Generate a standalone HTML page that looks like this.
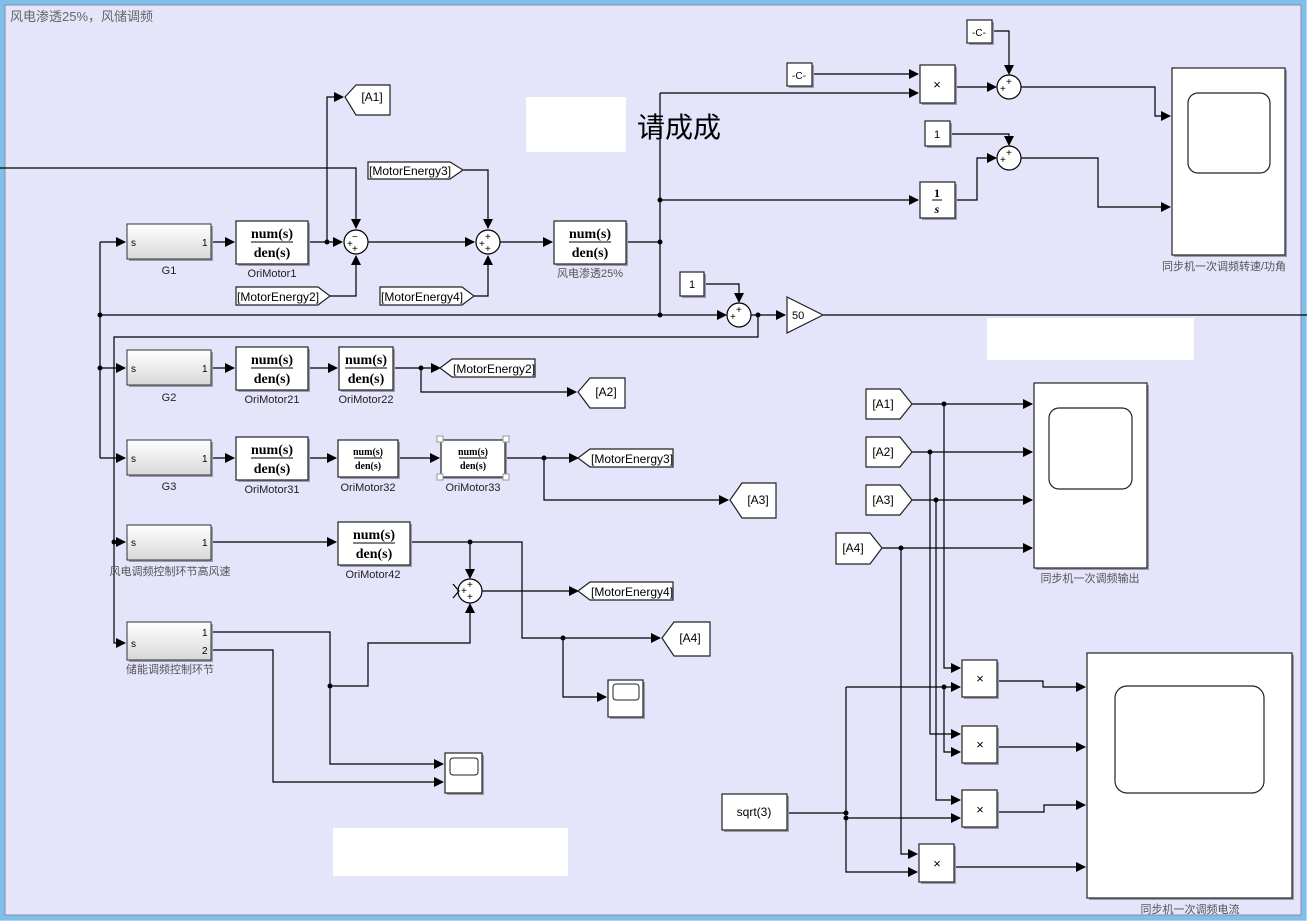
<!DOCTYPE html>
<html><head><meta charset="utf-8"><style>
html,body{margin:0;padding:0;width:1307px;height:921px;overflow:hidden;background:#e4e4fa}
svg{display:block}
text{font-family:"Liberation Sans","Noto Sans CJK SC",sans-serif;fill:#000}
.cn{font-family:"Liberation Sans","Noto Sans CJK SC",sans-serif;fill:#555;font-size:11px}
.lb{font-size:11px;fill:#222}
.w{stroke:#000;stroke-width:1.2;fill:none}
.b{fill:#fff;stroke:#222;stroke-width:1.2}
.sh{fill:#9a9aaa}
.tf{font-family:"Liberation Serif",serif;font-weight:bold}
.tg{font-size:12px}
</style></head><body>
<svg width="1307" height="921" viewBox="0 0 1307 921" xmlns="http://www.w3.org/2000/svg">
<defs>
<marker id="a" markerWidth="10" markerHeight="10" refX="9" refY="5" orient="auto" markerUnits="userSpaceOnUse"><path d="M0,0 L10,5 L0,10 z" fill="#000"/></marker>
<linearGradient id="g" x1="0" y1="0" x2="0" y2="1"><stop offset="0" stop-color="#ffffff"/><stop offset="1" stop-color="#d8d8d8"/></linearGradient>
</defs>
<rect x="0" y="0" width="1307" height="921" fill="#e4e4fa"/>
<rect x="2" y="2" width="1302" height="916" fill="none" stroke="#7ec0ea" stroke-width="5"/>
<rect x="5" y="5" width="1296" height="910" fill="none" stroke="#8a8aa8" stroke-width="1"/>
<text x="10" y="21" style="font-size:13px;fill:#666">风电渗透25%，风储调频</text>

<rect x="526" y="97" width="100" height="55" fill="#fff"/>
<rect x="987" y="318" width="207" height="42" fill="#fff"/>
<rect x="333" y="828" width="235" height="48" fill="#fff"/>
<text x="637" y="137" style="font-size:28px">请成成</text>

<g class="w">
<path d="M0,168 H356 V228" marker-end="url(#a)"/>
<path d="M100,242 V458"/>
<path d="M100,242 H125" marker-end="url(#a)"/>
<path d="M100,368 H125" marker-end="url(#a)"/>
<path d="M100,458 H125" marker-end="url(#a)"/>
<path d="M100,315 H726" marker-end="url(#a)"/>
<path d="M758,315 V337 H114 V643 H125" marker-end="url(#a)"/>
<path d="M114,542 H125" marker-end="url(#a)"/>
<path d="M211,242 H234" marker-end="url(#a)"/>
<path d="M308,242 H342" marker-end="url(#a)"/>
<path d="M327,242 V97 H343" marker-end="url(#a)"/>
<path d="M330,296 H356 V256" marker-end="url(#a)"/>
<path d="M463,170 H488 V228" marker-end="url(#a)"/>
<path d="M474,296 H488 V256" marker-end="url(#a)"/>
<path d="M368,242 H474" marker-end="url(#a)"/>
<path d="M500,242 H552" marker-end="url(#a)"/>
<path d="M626,242 H660"/>
<path d="M660,93 V315"/>
<path d="M660,93 H918" marker-end="url(#a)"/>
<path d="M812,74 H918" marker-end="url(#a)"/>
<path d="M660,200 H918" marker-end="url(#a)"/>
<path d="M955,87 H996" marker-end="url(#a)"/>
<path d="M992,31 H1009 V74" marker-end="url(#a)"/>
<path d="M1021,87 H1155 V116 H1170" marker-end="url(#a)"/>
<path d="M950,134 H1009 V145" marker-end="url(#a)"/>
<path d="M955,200 H977 V158 H996" marker-end="url(#a)"/>
<path d="M1021,158 H1098 V207 H1170" marker-end="url(#a)"/>
<path d="M704,284 H739 V302" marker-end="url(#a)"/>
<path d="M751,315 H785" marker-end="url(#a)"/>
<path d="M823,315 H1307"/>
<path d="M211,368 H234" marker-end="url(#a)"/>
<path d="M308,368 H337" marker-end="url(#a)"/>
<path d="M393,368 H440" marker-end="url(#a)"/>
<path d="M421,368 V392 H576" marker-end="url(#a)"/>
<path d="M211,458 H234" marker-end="url(#a)"/>
<path d="M308,458 H336" marker-end="url(#a)"/>
<path d="M398,458 H439" marker-end="url(#a)"/>
<path d="M505,458 H578" marker-end="url(#a)"/>
<path d="M544,458 V500 H728" marker-end="url(#a)"/>
<path d="M211,542 H336" marker-end="url(#a)"/>
<path d="M410,542 H522 V638 H660" marker-end="url(#a)"/>
<path d="M470,542 V578" marker-end="url(#a)"/>
<path d="M482,591 H578" marker-end="url(#a)"/>
<path d="M563,638 V697 H606" marker-end="url(#a)"/>
<path d="M211,632 H330 V764 H443" marker-end="url(#a)"/>
<path d="M330,686 H368 V643 H470 V604" marker-end="url(#a)"/>
<path d="M211,650 H273 V782 H443" marker-end="url(#a)"/>
<path d="M912,404 H1032" marker-end="url(#a)"/>
<path d="M912,452 H1032" marker-end="url(#a)"/>
<path d="M912,500 H1032" marker-end="url(#a)"/>
<path d="M882,548 H1032" marker-end="url(#a)"/>
<path d="M944,404 V668 H960" marker-end="url(#a)"/>
<path d="M930,452 V734 H960" marker-end="url(#a)"/>
<path d="M936,500 V800 H960" marker-end="url(#a)"/>
<path d="M901,548 V854 H917" marker-end="url(#a)"/>
<path d="M787,813 H846"/>
<path d="M846,687 H960" marker-end="url(#a)"/>
<path d="M846,687 V872 H917" marker-end="url(#a)"/>
<path d="M846,818 H960" marker-end="url(#a)"/>
<path d="M944,687 V752 H960" marker-end="url(#a)"/>
<path d="M997,681 H1043 V687 H1085" marker-end="url(#a)"/>
<path d="M997,747 H1085" marker-end="url(#a)"/>
<path d="M997,812 H1044 V805 H1085" marker-end="url(#a)"/>
<path d="M955,867 H1085" marker-end="url(#a)"/>
</g>
<g fill="#000">
<circle cx="100" cy="315" r="2.5"/><circle cx="100" cy="368" r="2.5"/><circle cx="114" cy="542" r="2.5"/>
<circle cx="327" cy="242" r="2.5"/><circle cx="660" cy="242" r="2.5"/><circle cx="660" cy="200" r="2.5"/><circle cx="660" cy="315" r="2.5"/>
<circle cx="758" cy="315" r="2.5"/><circle cx="421" cy="368" r="2.5"/><circle cx="544" cy="458" r="2.5"/>
<circle cx="470" cy="542" r="2.5"/><circle cx="563" cy="638" r="2.5"/><circle cx="330" cy="686" r="2.5"/>
<circle cx="944" cy="404" r="2.5"/><circle cx="930" cy="452" r="2.5"/><circle cx="936" cy="500" r="2.5"/><circle cx="901" cy="548" r="2.5"/>
<circle cx="944" cy="687" r="2.5"/><circle cx="846" cy="813" r="2.5"/><circle cx="846" cy="818" r="2.5"/>
</g>

<g>
<rect x="129" y="226" width="84" height="35" class="sh"/><rect x="127" y="224" width="84" height="35" fill="url(#g)" stroke="#333"/>
<text x="131" y="246" style="font-size:10px">s</text><text x="202" y="246" style="font-size:10px">1</text>
<text x="169" y="274" text-anchor="middle" class="lb">G1</text>
<rect x="129" y="352" width="84" height="35" class="sh"/><rect x="127" y="350" width="84" height="35" fill="url(#g)" stroke="#333"/>
<text x="131" y="372" style="font-size:10px">s</text><text x="202" y="372" style="font-size:10px">1</text>
<text x="169" y="401" text-anchor="middle" class="lb">G2</text>
<rect x="129" y="442" width="84" height="35" class="sh"/><rect x="127" y="440" width="84" height="35" fill="url(#g)" stroke="#333"/>
<text x="131" y="462" style="font-size:10px">s</text><text x="202" y="462" style="font-size:10px">1</text>
<text x="169" y="490" text-anchor="middle" class="lb">G3</text>
<rect x="129" y="527" width="84" height="35" class="sh"/><rect x="127" y="525" width="84" height="35" fill="url(#g)" stroke="#333"/>
<text x="131" y="546" style="font-size:10px">s</text><text x="202" y="546" style="font-size:10px">1</text>
<text x="170" y="575" text-anchor="middle" class="cn">风电调频控制环节高风速</text>
<rect x="129" y="624" width="84" height="38" class="sh"/><rect x="127" y="622" width="84" height="38" fill="url(#g)" stroke="#333"/>
<text x="131" y="647" style="font-size:10px">s</text><text x="202" y="636" style="font-size:10px">1</text><text x="202" y="654" style="font-size:10px">2</text>
<text x="170" y="673" text-anchor="middle" class="cn">储能调频控制环节</text>
</g>

<g>
<rect x="238" y="223" width="72" height="43" class="sh"/><rect x="236" y="221" width="72" height="43" class="b"/>
<text x="272" y="238" text-anchor="middle" class="tf" style="font-size:14px">num(s)</text><line x1="251" y1="242" x2="293" y2="242" stroke="#000"/><text x="272" y="257" text-anchor="middle" class="tf" style="font-size:14px">den(s)</text>
<text x="272" y="277" text-anchor="middle" class="lb">OriMotor1</text>
<rect x="556" y="223" width="72" height="43" class="sh"/><rect x="554" y="221" width="72" height="43" class="b"/>
<text x="590" y="238" text-anchor="middle" class="tf" style="font-size:14px">num(s)</text><line x1="569" y1="242" x2="611" y2="242" stroke="#000"/><text x="590" y="257" text-anchor="middle" class="tf" style="font-size:14px">den(s)</text>
<text x="590" y="277" text-anchor="middle" class="cn">风电渗透25%</text>
<rect x="238" y="349" width="72" height="43" class="sh"/><rect x="236" y="347" width="72" height="43" class="b"/>
<text x="272" y="364" text-anchor="middle" class="tf" style="font-size:14px">num(s)</text><line x1="251" y1="368" x2="293" y2="368" stroke="#000"/><text x="272" y="383" text-anchor="middle" class="tf" style="font-size:14px">den(s)</text>
<text x="272" y="403" text-anchor="middle" class="lb">OriMotor21</text>
<rect x="341" y="349" width="54" height="43" class="sh"/><rect x="339" y="347" width="54" height="43" class="b"/>
<text x="366" y="364" text-anchor="middle" class="tf" style="font-size:14px">num(s)</text><line x1="345" y1="368" x2="387" y2="368" stroke="#000"/><text x="366" y="383" text-anchor="middle" class="tf" style="font-size:14px">den(s)</text>
<text x="366" y="403" text-anchor="middle" class="lb">OriMotor22</text>
<rect x="238" y="439" width="72" height="43" class="sh"/><rect x="236" y="437" width="72" height="43" class="b"/>
<text x="272" y="454" text-anchor="middle" class="tf" style="font-size:14px">num(s)</text><line x1="251" y1="458" x2="293" y2="458" stroke="#000"/><text x="272" y="473" text-anchor="middle" class="tf" style="font-size:14px">den(s)</text>
<text x="272" y="493" text-anchor="middle" class="lb">OriMotor31</text>
<rect x="340" y="442" width="60" height="37" class="sh"/><rect x="338" y="440" width="60" height="37" class="b"/>
<text x="368" y="455" text-anchor="middle" class="tf" style="font-size:10px">num(s)</text><line x1="354" y1="458" x2="382" y2="458" stroke="#000"/><text x="368" y="469" text-anchor="middle" class="tf" style="font-size:10px">den(s)</text>
<text x="368" y="491" text-anchor="middle" class="lb">OriMotor32</text>
<rect x="443" y="442" width="64" height="37" class="sh"/><rect x="441" y="440" width="64" height="37" class="b"/>
<text x="473" y="455" text-anchor="middle" class="tf" style="font-size:10px">num(s)</text><line x1="459" y1="458" x2="487" y2="458" stroke="#000"/><text x="473" y="469" text-anchor="middle" class="tf" style="font-size:10px">den(s)</text>
<g fill="#fff" stroke="#999"><rect x="437" y="436" width="6" height="6"/><rect x="503" y="436" width="6" height="6"/><rect x="437" y="474" width="6" height="6"/><rect x="503" y="474" width="6" height="6"/></g>
<text x="473" y="491" text-anchor="middle" class="lb">OriMotor33</text>
<rect x="340" y="524" width="72" height="43" class="sh"/><rect x="338" y="522" width="72" height="43" class="b"/>
<text x="374" y="539" text-anchor="middle" class="tf" style="font-size:14px">num(s)</text><line x1="353" y1="543" x2="395" y2="543" stroke="#000"/><text x="374" y="558" text-anchor="middle" class="tf" style="font-size:14px">den(s)</text>
<text x="373" y="578" text-anchor="middle" class="lb">OriMotor42</text>
</g>

<g fill="#fff" stroke="#000" stroke-width="1.2">
<circle cx="356" cy="242" r="12"/><circle cx="488" cy="242" r="12"/>
<circle cx="1009" cy="87" r="12"/><circle cx="1009" cy="158" r="12"/>
<circle cx="739" cy="315" r="12"/><circle cx="470" cy="591" r="12"/>
</g>
<g style="font-size:10px">
<text x="352" y="240">−</text><text x="347" y="247">+</text><text x="352" y="252">+</text>
<text x="485" y="240">+</text><text x="479" y="247">+</text><text x="485" y="252">+</text>
<text x="1006" y="85">+</text><text x="1000" y="92">+</text>
<text x="1006" y="156">+</text><text x="1000" y="163">+</text>
<text x="736" y="313">+</text><text x="730" y="320">+</text>
<text x="467" y="588">+</text><text x="461" y="594">+</text><text x="467" y="600">+</text>
</g>
<path d="M453,584 L459,591 L453,598" stroke="#000" fill="none" stroke-width="1.2"/>

<g>
<rect x="789" y="65" width="25" height="23" class="sh"/><rect x="787" y="63" width="25" height="23" class="b"/><text x="799" y="79" text-anchor="middle" style="font-size:10px">-C-</text>
<rect x="969" y="22" width="25" height="23" class="sh"/><rect x="967" y="20" width="25" height="23" class="b"/><text x="979" y="36" text-anchor="middle" style="font-size:10px">-C-</text>
<rect x="927" y="123" width="25" height="25" class="sh"/><rect x="925" y="121" width="25" height="25" class="b"/><text x="937" y="138" text-anchor="middle" style="font-size:11px">1</text>
<rect x="682" y="274" width="24" height="24" class="sh"/><rect x="680" y="272" width="24" height="24" class="b"/><text x="692" y="288" text-anchor="middle" style="font-size:11px">1</text>
<rect x="922" y="67" width="35" height="38" class="sh"/><rect x="920" y="65" width="35" height="38" class="b"/><text x="937" y="89" text-anchor="middle" style="font-size:13px">×</text>
<rect x="922" y="184" width="35" height="36" class="sh"/><rect x="920" y="182" width="35" height="36" class="b"/>
<text x="937" y="197" text-anchor="middle" class="tf" style="font-size:12px">1</text><line x1="932" y1="200" x2="942" y2="200" stroke="#000"/><text x="937" y="213" text-anchor="middle" style="font-size:12px;font-family:'Liberation Serif',serif;font-style:italic;font-weight:bold">s</text>
<path d="M787,297 L823,315 L787,333 Z" class="b"/><text x="792" y="319" style="font-size:11px">50</text>
<rect x="964" y="662" width="35" height="37" class="sh"/><rect x="962" y="660" width="35" height="37" class="b"/><text x="980" y="683" text-anchor="middle" style="font-size:13px">×</text>
<rect x="964" y="728" width="35" height="37" class="sh"/><rect x="962" y="726" width="35" height="37" class="b"/><text x="980" y="749" text-anchor="middle" style="font-size:13px">×</text>
<rect x="964" y="792" width="35" height="37" class="sh"/><rect x="962" y="790" width="35" height="37" class="b"/><text x="980" y="814" text-anchor="middle" style="font-size:13px">×</text>
<rect x="921" y="846" width="35" height="38" class="sh"/><rect x="919" y="844" width="35" height="38" class="b"/><text x="937" y="868" text-anchor="middle" style="font-size:13px">×</text>
<rect x="724" y="796" width="65" height="36" class="sh"/><rect x="722" y="794" width="65" height="36" class="b"/><text x="754" y="816" text-anchor="middle" style="font-size:12px">sqrt(3)</text>
</g>

<g>
<path d="M345,97 L356,85 H390 V115 H356 Z" class="b"/><text x="372" y="101" text-anchor="middle" class="tg">[A1]</text>
<path d="M368,162 H450 L463,170 L450,179 H368 Z" class="b"/><text x="369" y="175" class="tg">[MotorEnergy3]</text>
<path d="M236,287 H318 L330,296 L318,305 H236 Z" class="b"/><text x="237" y="301" class="tg">[MotorEnergy2]</text>
<path d="M380,287 H462 L474,296 L462,305 H380 Z" class="b"/><text x="381" y="301" class="tg">[MotorEnergy4]</text>
<path d="M440,368 L452,359 H535 V377 H452 Z" class="b"/><text x="453" y="373" class="tg">[MotorEnergy2]</text>
<path d="M578,392 L590,378 H625 V408 H590 Z" class="b"/><text x="606" y="396" text-anchor="middle" class="tg">[A2]</text>
<path d="M578,458 L590,449 H673 V467 H590 Z" class="b"/><text x="591" y="463" class="tg">[MotorEnergy3]</text>
<path d="M730,500 L742,483 H776 V518 H742 Z" class="b"/><text x="758" y="504" text-anchor="middle" class="tg">[A3]</text>
<path d="M578,591 L590,582 H673 V600 H590 Z" class="b"/><text x="591" y="596" class="tg">[MotorEnergy4]</text>
<path d="M662,638 L674,622 H710 V656 H674 Z" class="b"/><text x="690" y="642" text-anchor="middle" class="tg">[A4]</text>
<path d="M866,389 H900 L912,404 L900,419 H866 Z" class="b"/><text x="883" y="408" text-anchor="middle" class="tg">[A1]</text>
<path d="M866,437 H900 L912,452 L900,467 H866 Z" class="b"/><text x="883" y="456" text-anchor="middle" class="tg">[A2]</text>
<path d="M866,485 H900 L912,500 L900,515 H866 Z" class="b"/><text x="883" y="504" text-anchor="middle" class="tg">[A3]</text>
<path d="M836,533 H870 L882,548 L870,564 H836 Z" class="b"/><text x="853" y="552" text-anchor="middle" class="tg">[A4]</text>
</g>

<g>
<rect x="1174" y="70" width="113" height="187" class="sh"/><rect x="1172" y="68" width="113" height="187" class="b"/>
<rect x="1188" y="93" width="82" height="80" rx="10" fill="#fff" stroke="#222" stroke-width="1.2"/>
<text x="1224" y="270" text-anchor="middle" class="cn">同步机一次调频转速/功角</text>
<rect x="1036" y="385" width="113" height="185" class="sh"/><rect x="1034" y="383" width="113" height="185" class="b"/>
<rect x="1049" y="408" width="83" height="81" rx="10" fill="#fff" stroke="#222" stroke-width="1.2"/>
<text x="1090" y="582" text-anchor="middle" class="cn">同步机一次调频输出</text>
<rect x="1089" y="655" width="205" height="245" class="sh"/><rect x="1087" y="653" width="205" height="245" class="b"/>
<rect x="1115" y="686" width="149" height="107" rx="12" fill="#fff" stroke="#222" stroke-width="1.2"/>
<text x="1190" y="913" text-anchor="middle" class="cn">同步机一次调频电流</text>
<rect x="610" y="682" width="35" height="37" class="sh"/><rect x="608" y="680" width="35" height="37" class="b"/>
<rect x="613" y="684" width="26" height="16" rx="3" fill="#fff" stroke="#222"/>
<rect x="447" y="755" width="37" height="40" class="sh"/><rect x="445" y="753" width="37" height="40" class="b"/>
<rect x="450" y="758" width="28" height="17" rx="3" fill="#fff" stroke="#222"/>
</g>
</svg>
</body></html>
